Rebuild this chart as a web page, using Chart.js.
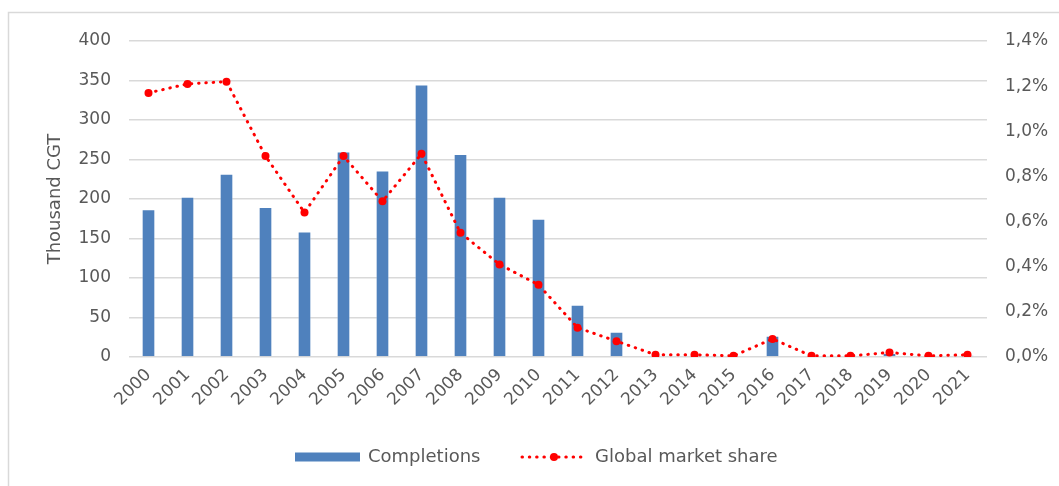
<!DOCTYPE html>
<html>
<head>
<meta charset="utf-8">
<script src="https://cdn.jsdelivr.net/npm/chart.js@4/dist/chart.umd.min.js"></script>
<style>
  html, body { margin: 0; padding: 0; background: #fff; }
  #wrap { width: 1059px; height: 486px; position: relative; }
</style>
</head>
<body>
<div id="wrap"><canvas id="myChart"></canvas></div>
<script>
(() => {
    'use strict'

    // data
    const years = ['2000', '2001', '2002', '2003', '2004', '2005', '2006', '2007', '2008', '2009', '2010',
        '2011', '2012', '2013', '2014', '2015', '2016', '2017', '2018', '2019', '2020', '2021']
    const completions = [187, 203, 232, 190, 159, 260, 236, 345, 257, 203, 175,
        66, 32, 0, 0, 0, 27, 0, 0, 5, 0, 2]
    const marketShare = [1.17, 1.21, 1.22, 0.89, 0.64, 0.89, 0.69, 0.90, 0.55, 0.41, 0.32,
        0.13, 0.07, 0.01, 0.01, 0.005, 0.08, 0.005, 0.005, 0.02, 0.005, 0.01]
    const leftTicks = [0, 400, 50]
    const rightTicks = [0, 1.4, 0.2]

    const grey = '#595959'
    const gridGrey = '#d9d9d9'
    const blue = '#4f81bd'
    const red = '#ff0000'
    const fontFamily = '"DejaVu Sans", sans-serif'

    // frame + legend drawn by hand (line-with-dot swatch)
    const extras = {
        id: 'extras',
        afterDraw(chart) {
            const c = chart.ctx
            c.save()
            c.strokeStyle = gridGrey
            c.lineWidth = 1.5
            c.beginPath()
            c.moveTo(8.5, 486)
            c.lineTo(8.5, 12.5)
            c.lineTo(1059, 12.5)
            c.stroke()

            const y = 457
            c.font = '18px ' + fontFamily
            c.fillStyle = grey
            c.textBaseline = 'middle'

            c.fillStyle = blue
            c.fillRect(295, y - 4.5, 65, 9)
            c.fillStyle = grey
            c.fillText('Completions', 368, y)

            c.strokeStyle = red
            c.lineWidth = 3
            c.lineCap = 'round'
            c.setLineDash([0.5, 6.8])
            c.beginPath()
            c.moveTo(522, y)
            c.lineTo(584, y)
            c.stroke()
            c.setLineDash([])
            c.fillStyle = red
            c.beginPath()
            c.arc(554, y, 4, 0, Math.PI * 2)
            c.fill()
            c.fillStyle = grey
            c.fillText('Global market share', 595, y)
            c.restore()
        }
    }

    const ctx = document.getElementById('myChart')
    // eslint-disable-next-line no-unused-vars
    const myChart = new Chart(ctx, {
        data: {
            labels: years,
            datasets: [{
                type: 'line',
                label: 'Global market share',
                data: marketShare,
                yAxisID: 'y1',
                order: 1,
                borderColor: red,
                borderWidth: 3,
                borderDash: [0.5, 6.8],
                borderCapStyle: 'round',
                backgroundColor: red,
                pointBackgroundColor: red,
                pointBorderWidth: 0,
                pointRadius: 4,
                tension: 0,
                fill: false
            }, {
                type: 'bar',
                label: 'Completions',
                data: completions,
                yAxisID: 'y',
                order: 2,
                backgroundColor: blue,
                borderColor: 'rgba(255,255,255,0.35)',
                borderWidth: 1,
                barPercentage: 0.35,
                categoryPercentage: 1
            }]
        },
        options: {
            responsive: true,
            maintainAspectRatio: false,
            animation: false,
            layout: {
                padding: { top: 41, left: 0, right: 0, bottom: 0 }
            },
            scales: {
                x: {
                    offset: true,
                    grid: { display: false, drawTicks: false },
                    border: { display: false },
                    ticks: {
                        autoSkip: false,
                        minRotation: 45,
                        maxRotation: 45,
                        padding: 8,
                        color: grey,
                        font: { family: fontFamily, size: 17 }
                    },
                    afterFit(scale) { scale.height = 129 }
                },
                y: {
                    position: 'left',
                    min: leftTicks[0],
                    max: leftTicks[1],
                    grid: { color: gridGrey, lineWidth: 1.5, drawTicks: false },
                    border: { display: false },
                    ticks: {
                        stepSize: leftTicks[2],
                        padding: 18,
                        color: grey,
                        font: { family: fontFamily, size: 17 }
                    },
                    title: {
                        display: true,
                        text: 'Thousand CGT',
                        color: grey,
                        font: { family: fontFamily, size: 18 },
                        padding: { top: 45, bottom: 0 }
                    },
                    afterFit(scale) { scale.width = 129 }
                },
                y1: {
                    position: 'right',
                    min: rightTicks[0],
                    max: rightTicks[1],
                    grid: { display: false, drawTicks: false },
                    border: { display: false },
                    ticks: {
                        stepSize: rightTicks[2],
                        padding: 18,
                        color: grey,
                        font: { family: fontFamily, size: 17 },
                        callback: (v) => v.toFixed(1).replace('.', ',') + '%'
                    },
                    afterFit(scale) { scale.width = 72 }
                }
            },
            plugins: {
                legend: { display: false },
                tooltip: { enabled: false }
            }
        },
        plugins: [extras]
    })
})()
</script>
</body>
</html>
